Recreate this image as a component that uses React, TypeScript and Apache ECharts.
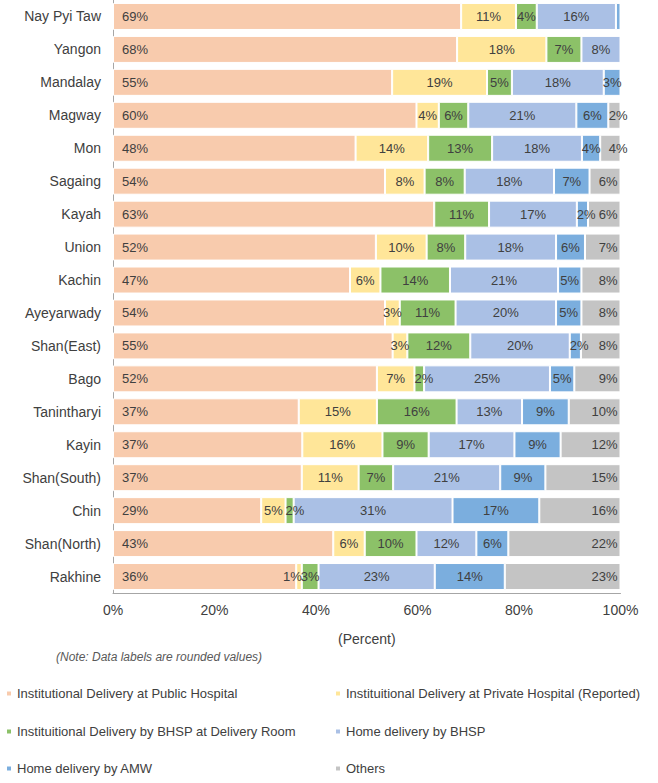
import React, { useEffect, useRef } from "react";
import * as echarts from "echarts";

const categories = [
  "Nay Pyi Taw", "Yangon", "Mandalay", "Magway", "Mon", "Sagaing", "Kayah", "Union", "Kachin",
  "Ayeyarwady", "Shan(East)", "Bago", "Tanintharyi", "Kayin", "Shan(South)", "Chin", "Shan(North)", "Rakhine",
];
const publicHospital = [68.6, 67.8, 55.0, 59.8, 47.8, 53.6, 63.3, 51.8, 46.7, 53.6, 55.1, 52.0, 36.6, 37.3, 37.2, 29.2, 43.4, 36.1];
const privateHospital = [10.8, 17.6, 18.7, 4.4, 14.3, 7.8, 0, 10.0, 6.0, 2.9, 2.9, 7.4, 15.4, 15.8, 11.2, 4.8, 6.2, 1.1];
const bhspDeliveryRoom = [4.1, 6.9, 4.9, 5.8, 12.6, 7.9, 10.8, 7.6, 13.7, 11.0, 12.4, 1.9, 15.7, 9.1, 6.8, 1.6, 10.2, 3.3];
const homeBhsp = [15.6, 7.7, 18.1, 21.3, 17.7, 17.6, 17.3, 17.9, 21.3, 19.8, 19.6, 24.8, 12.9, 16.9, 21.1, 31.3, 11.8, 22.9];
const homeAmw = [0.9, 0, 3.3, 6.3, 3.6, 7.0, 2.2, 5.7, 4.6, 5.0, 2.2, 4.8, 9.2, 9.1, 8.9, 17.1, 6.3, 13.8];
const others = [0, 0, 0, 2.4, 4.0, 6.1, 6.4, 7.0, 7.7, 7.7, 7.8, 9.1, 10.2, 11.8, 14.8, 16.0, 22.1, 22.8];

const seriesNames = [
  "Institutional Delivery at Public Hospital",
  "Instituitional Delivery at Private Hospital (Reported)",
  "Instituitional Delivery by BHSP at Delivery Room",
  "Home delivery by BHSP",
  "Home delivery by AMW",
  "Others",
];
const seriesData = [publicHospital, privateHospital, bhspDeliveryRoom, homeBhsp, homeAmw, others];
const seriesColors = ["#F8CBAD", "#FFE699", "#8CC168", "#AAC0E5", "#7BAEDE", "#C4C4C4"];
const xTicks = [0, 20, 40, 60, 80, 100];

const FONT = "'Liberation Sans', Arial, sans-serif";
const TEXT = "#404040";

function itemLabel(si: number, v: number): any {
  if (si === 5) return { position: "insideRight", distance: v < 5 ? -7 : 3 };
  if (si > 0 && v < 1.5) return { position: "insideRight", distance: 0 };
  if (si > 0 && v < 2.5) return { position: "insideLeft", distance: 0 };
  return undefined;
}

export default function App() {
  const ref = useRef<HTMLDivElement>(null);
  useEffect(() => {
    document.body.style.margin = "0";
    const chart = echarts.init(ref.current!, null, { renderer: "svg" });
    const legendPos = [
      [5, 687], [334, 687],
      [5, 725], [334, 725],
      [5, 762], [334, 762],
    ];
    const option: any = {
      animation: false,
      textStyle: { fontFamily: FONT },
      grid: { left: 113, right: 37.5, top: 0, bottom: 190 },
      xAxis: {
        type: "value",
        min: xTicks[0],
        max: xTicks[xTicks.length - 1],
        interval: 20,
        axisLine: { show: true, lineStyle: { color: "#A6A6A6", width: 1 } },
        axisTick: { show: false },
        splitLine: { show: false },
        axisLabel: { formatter: "{value}%", fontSize: 14, color: TEXT, margin: 10, fontFamily: FONT },
        name: "(Percent)",
        nameLocation: "middle",
        nameGap: 39,
        nameTextStyle: { fontSize: 14, color: TEXT, fontFamily: FONT },
      },
      yAxis: {
        type: "category",
        data: categories,
        inverse: true,
        axisLine: { show: true, lineStyle: { color: "#A6A6A6", width: 1 } },
        axisTick: { show: false },
        axisLabel: { fontSize: 14, color: TEXT, margin: 12, fontFamily: FONT },
      },
      legend: seriesNames.map((n, i) => ({
        data: [n],
        left: legendPos[i][0],
        top: legendPos[i][1],
        padding: 0,
        icon: "rect",
        itemWidth: 6,
        itemHeight: 6,
        selectedMode: false,
        textStyle: { fontSize: 13, color: TEXT, fontFamily: FONT },
      })),
      graphic: [
        {
          type: "text",
          left: 56,
          top: 651,
          style: {
            text: "(Note: Data labels are rounded values)",
            font: `italic 12px ${FONT}`,
            fill: "#595959",
          },
        },
      ],
      series: seriesNames.map((name, i) => ({
        name,
        type: "bar",
        stack: "total",
        barCategoryGap: "18%",
        data: seriesData[i].map((v) => {
          const l = itemLabel(i, v);
          return l ? { value: v, label: l } : { value: v };
        }),
        itemStyle: { color: seriesColors[i], borderColor: "#ffffff", borderWidth: 1 },
        label: {
          show: true,
          position: i === 0 ? "insideLeft" : i === 5 ? "insideRight" : "inside",
          distance: i === 0 ? 9 : 3,
          fontSize: 13,
          color: TEXT,
          fontFamily: FONT,
          formatter: (p: any) => (p.value < 1 ? "" : Math.round(p.value) + "%"),
        },
      })),
    };
    chart.setOption(option);
    return () => chart.dispose();
  }, []);
  return <div ref={ref} style={{ width: 658, height: 783 }} />;
}
